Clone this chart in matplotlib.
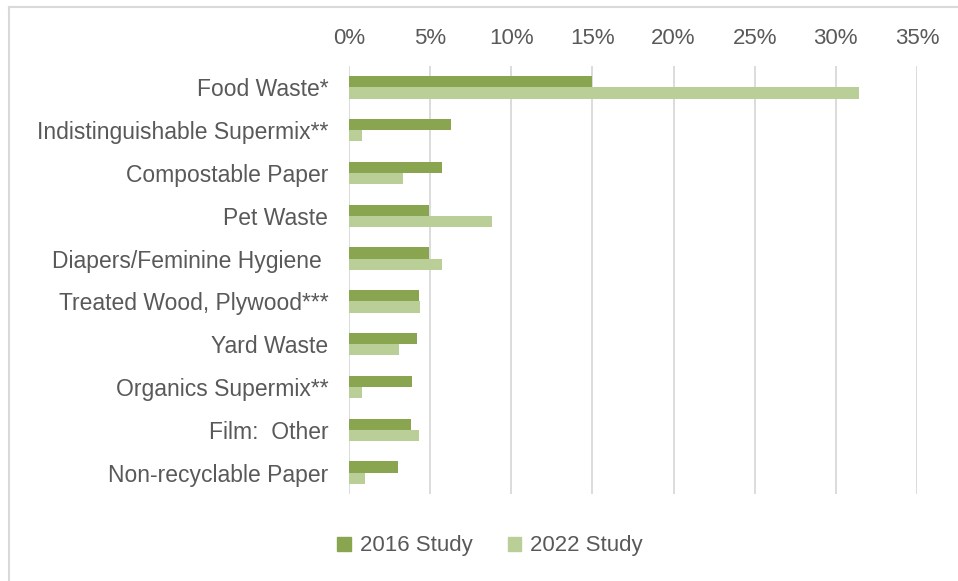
import numpy as np
import matplotlib.pyplot as plt
from matplotlib.lines import Line2D
from matplotlib.patches import Patch

categories = [
    "Food Waste*",
    "Indistinguishable Supermix**",
    "Compostable Paper",
    "Pet Waste",
    "Diapers/Feminine Hygiene ",
    "Treated Wood, Plywood***",
    "Yard Waste",
    "Organics Supermix**",
    "Film:  Other",
    "Non-recyclable Paper",
]
study_2016 = [15.0, 6.3, 5.7, 4.9, 4.9, 4.3, 4.2, 3.9, 3.8, 3.0]
study_2022 = [31.4, 0.8, 3.35, 8.8, 5.7, 4.4, 3.1, 0.8, 4.3, 1.0]
xticks = [0, 5, 10, 15, 20, 25, 30, 35]

c2016 = "#8AA550"
c2022 = "#B9CF97"
text_col = "#595959"
grid_col = "#D9D9D9"

plt.rcParams["font.family"] = ["Liberation Sans", "DejaVu Sans"]

fig = plt.figure(figsize=(9.58, 5.81), dpi=100)
ax = fig.add_axes([349 / 958, 1 - 494 / 581, (917 - 349) / 958, (494 - 66) / 581])

y = np.arange(len(categories))
h = 0.263
ax.barh(y - h / 2, study_2016, height=h, color=c2016, label="2016 Study", zorder=3)
ax.barh(y + h / 2, study_2022, height=h, color=c2022, label="2022 Study", zorder=3)

ax.set_xlim(0, 35)
ax.set_ylim(len(categories) - 0.5, -0.5)
ax.set_xticks(xticks)
ax.set_xticklabels([f"{t}%" for t in xticks])
ax.set_yticks(y)
ax.set_yticklabels(categories)
ax.xaxis.tick_top()
ax.tick_params(axis="x", length=0, pad=12, labelsize=16, labelcolor=text_col)
ax.tick_params(axis="y", length=0, pad=15, labelsize=16.5, labelcolor=text_col)
ax.grid(axis="x", color=grid_col, linewidth=1.3, zorder=0)
for s in ax.spines.values():
    s.set_visible(False)

handles = [Patch(color=c2016, label="2016 Study"), Patch(color=c2022, label="2022 Study")]
fig.legend(handles=handles, loc="center", bbox_to_anchor=(490 / 958, 1 - 546 / 581),
           ncol=2, frameon=False, fontsize=16, labelcolor=text_col,
           handlelength=0.6, handleheight=0.6, handletextpad=0.4, columnspacing=1.6)

# thin frame along the top and left edges of the chart area
fig.add_artist(Line2D([8.5 / 958, 1], [1 - 6.5 / 581, 1 - 6.5 / 581], color=grid_col, lw=1.5))
fig.add_artist(Line2D([8.5 / 958, 8.5 / 958], [0, 1 - 6.5 / 581], color=grid_col, lw=1.5))

fig.savefig("out.png", dpi=100)
